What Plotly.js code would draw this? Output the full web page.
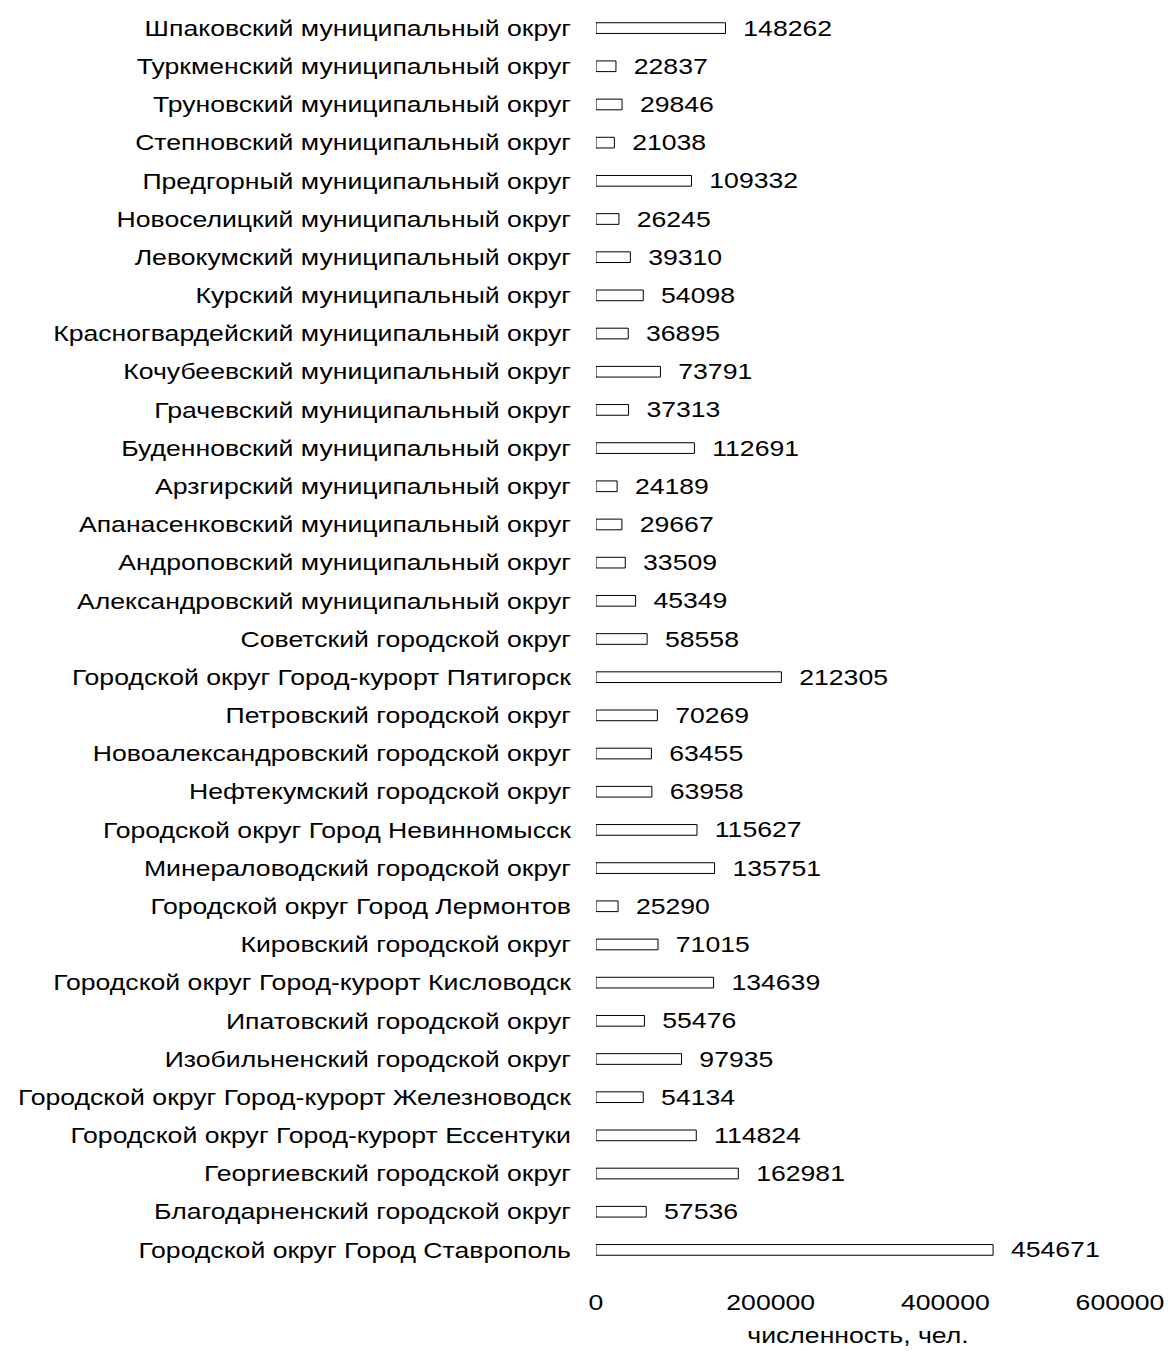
<!DOCTYPE html>
<html>
<head>
<meta charset="utf-8">
<script src="https://cdn.plot.ly/plotly-3.0.1.min.js"></script>
<style>html,body{margin:0;padding:0;background:#fff;}#chart{width:1168px;height:1351px;}</style>
</head>
<body>
<div id="chart"></div>
<script>
const districts = [
  "Городской округ Город Ставрополь",
  "Благодарненский городской округ",
  "Георгиевский городской округ",
  "Городской округ Город-курорт Ессентуки",
  "Городской округ Город-курорт Железноводск",
  "Изобильненский городской округ",
  "Ипатовский городской округ",
  "Городской округ Город-курорт Кисловодск",
  "Кировский городской округ",
  "Городской округ Город Лермонтов",
  "Минераловодский городской округ",
  "Городской округ Город Невинномысск",
  "Нефтекумский городской округ",
  "Новоалександровский городской округ",
  "Петровский городской округ",
  "Городской округ Город-курорт Пятигорск",
  "Советский городской округ",
  "Александровский муниципальный округ",
  "Андроповский муниципальный округ",
  "Апанасенковский муниципальный округ",
  "Арзгирский муниципальный округ",
  "Буденновский муниципальный округ",
  "Грачевский муниципальный округ",
  "Кочубеевский муниципальный округ",
  "Красногвардейский муниципальный округ",
  "Курский муниципальный округ",
  "Левокумский муниципальный округ",
  "Новоселицкий муниципальный округ",
  "Предгорный муниципальный округ",
  "Степновский муниципальный округ",
  "Труновский муниципальный округ",
  "Туркменский муниципальный округ",
  "Шпаковский муниципальный округ"
];
const population = [
  454671, 57536, 162981, 114824, 54134, 97935, 55476, 134639, 71015, 25290,
  135751, 115627, 63958, 63455, 70269, 212305, 58558, 45349, 33509, 29667,
  24189, 112691, 37313, 73791, 36895, 54098, 39310, 26245, 109332, 21038,
  29846, 22837, 148262
];
const xTicks = [0, 200000, 400000, 600000];
const xTitle = "численность, чел.";

const font = "Liberation Sans, Arial, sans-serif";
const fs = 22;
const stretch = 1.21;
const trace = {
  type: "bar",
  orientation: "h",
  y: districts,
  x: population,
  text: population.map(String),
  texttemplate: "\u00a0\u00a0%{text}",
  textposition: "outside",
  constraintext: "none",
  cliponaxis: false,
  textfont: {family: font, size: fs, color: "#000"},
  outsidetextfont: {family: font, size: fs, color: "#000"},
  width: 0.28,
  marker: {color: "#fff", line: {color: "#000", width: 1}},
  hoverinfo: "skip"
};
const layout = {
  width: 1168, height: 1351,
  margin: {l: 596, r: 48, t: 9, b: 82},
  paper_bgcolor: "#fff", plot_bgcolor: "#fff",
  showlegend: false,
  font: {family: font, size: fs, color: "#000"},
  xaxis: {
    range: [0, 600000], tickvals: xTicks, ticktext: xTicks.map(String),
    showgrid: false, zeroline: false, showline: false, ticks: "",
    ticklabelstandoff: 18,
    tickfont: {family: font, size: fs, color: "#000"},
    title: {text: xTitle, font: {family: font, size: fs, color: "#000"}, standoff: 13}
  },
  yaxis: {
    type: "category", range: [-0.5, districts.length - 0.5],
    showgrid: false, zeroline: false, showline: false, ticks: "",
    ticklabelstandoff: 24,
    tickfont: {family: font, size: fs, color: "#000"}
  }
};

function widen(gd, selector, pivot) {
  gd.querySelectorAll(selector).forEach(function (el) {
    const b = el.getBBox();
    let px = b.x + b.width / 2;
    if (pivot === "right") px = b.x + b.width;
    if (pivot === "left") px = b.x;
    const t = el.getAttribute("transform") || "";
    el.setAttribute("transform", t + " translate(" + px + ",0) scale(" + stretch + ",1) translate(" + (-px) + ",0)");
  });
}

Plotly.newPlot("chart", [trace], layout, {displayModeBar: false, staticPlot: true}).then(function (gd) {
  widen(gd, ".ytick text", "right");
  widen(gd, ".xtick text", "center");
  widen(gd, ".xtitle", "center");
  widen(gd, ".bartext", "left");
});
</script>
</body>
</html>
